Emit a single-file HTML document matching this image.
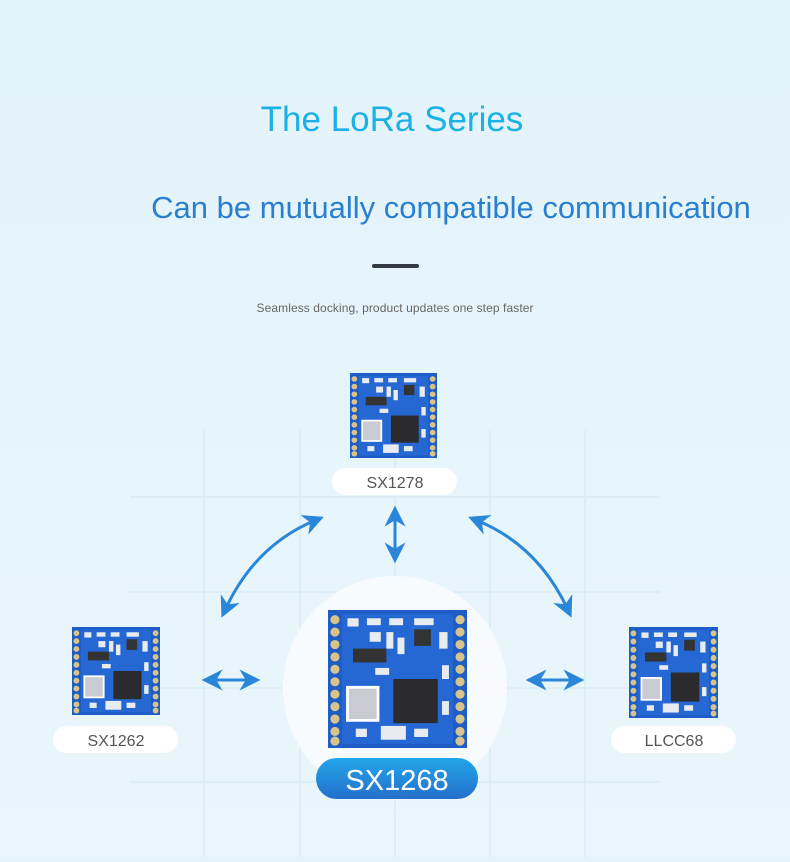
<!DOCTYPE html>
<html><head><meta charset="utf-8"><style>
html,body{margin:0;padding:0}
body{width:790px;height:857px;overflow:hidden;background:linear-gradient(#e4f4fb,#e9f6fc);font-family:"Liberation Sans",sans-serif}
</style></head><body>
<svg width="790" height="857" viewBox="0 0 790 857" xmlns="http://www.w3.org/2000/svg">
<defs>
<marker id="ah" viewBox="0 0 10 10" refX="6" refY="5" markerWidth="7" markerHeight="7" orient="auto-start-reverse" markerUnits="strokeWidth">
<path d="M0,0 L10,5 L0,10 L3,5 Z" fill="#2a86d8"/></marker>
<linearGradient id="pill" x1="0" y1="0" x2="0" y2="1"><stop offset="0" stop-color="#22a6ea"/><stop offset="1" stop-color="#2570cc"/></linearGradient>
<g id="m">
<rect x="0" y="0" width="100" height="100" fill="#1e5cc6"/>
<rect x="10" y="3" width="80" height="94" fill="#2568d4"/>
<g fill="#d8c48a">
<circle cx="5" cy="7" r="3.3"/><circle cx="5" cy="16" r="3.3"/><circle cx="5" cy="25" r="3.3"/><circle cx="5" cy="34" r="3.3"/><circle cx="5" cy="43" r="3.3"/><circle cx="5" cy="52" r="3.3"/><circle cx="5" cy="61" r="3.3"/><circle cx="5" cy="70" r="3.3"/><circle cx="5" cy="79" r="3.3"/><circle cx="5" cy="88" r="3.3"/><circle cx="5" cy="95" r="3.3"/>
<circle cx="95" cy="7" r="3.3"/><circle cx="95" cy="16" r="3.3"/><circle cx="95" cy="25" r="3.3"/><circle cx="95" cy="34" r="3.3"/><circle cx="95" cy="43" r="3.3"/><circle cx="95" cy="52" r="3.3"/><circle cx="95" cy="61" r="3.3"/><circle cx="95" cy="70" r="3.3"/><circle cx="95" cy="79" r="3.3"/><circle cx="95" cy="88" r="3.3"/><circle cx="95" cy="95" r="3.3"/>
</g>
<rect x="47" y="50" width="32" height="32" fill="#2b2b2e"/>
<rect x="14" y="56" width="22" height="24" fill="#c8ccd2" stroke="#fff" stroke-width="2"/>
<rect x="18" y="28" width="24" height="10" fill="#333"/>
<rect x="62" y="14" width="12" height="12" fill="#333"/>
<g fill="#e8ecf0">
<rect x="14" y="6" width="8" height="6"/><rect x="28" y="6" width="10" height="5"/><rect x="44" y="6" width="10" height="5"/><rect x="62" y="6" width="14" height="5"/>
<rect x="30" y="16" width="8" height="7"/><rect x="42" y="16" width="5" height="12"/><rect x="50" y="20" width="5" height="12"/><rect x="34" y="42" width="10" height="5"/>
<rect x="80" y="16" width="6" height="12"/><rect x="82" y="40" width="5" height="10"/><rect x="82" y="66" width="5" height="10"/>
<rect x="20" y="86" width="8" height="6"/><rect x="38" y="84" width="18" height="10"/><rect x="62" y="86" width="10" height="6"/>
</g>
</g>
</defs>
<text x="392" y="131" text-anchor="middle" font-size="35" fill="#1cb0e8">The LoRa Series</text>
<text x="451" y="218" text-anchor="middle" font-size="31" fill="#2a80d0">Can be mutually compatible communication</text>
<rect x="372" y="264" width="47" height="4" rx="2" fill="#333a44"/>
<text x="395" y="312" text-anchor="middle" font-size="12" fill="#666" textLength="277">Seamless docking, product updates one step faster</text>
<g stroke="#dceff7" stroke-width="2" fill="none">
<line x1="204" y1="430" x2="204" y2="857"/><line x1="300" y1="430" x2="300" y2="857"/><line x1="395" y1="430" x2="395" y2="857"/><line x1="490" y1="430" x2="490" y2="857"/><line x1="585" y1="430" x2="585" y2="857"/>
<line x1="130" y1="497" x2="660" y2="497"/><line x1="130" y1="592" x2="660" y2="592"/><line x1="130" y1="688" x2="660" y2="688"/><line x1="130" y1="782" x2="660" y2="782"/>
</g>
<circle cx="395" cy="688" r="112" fill="#f8fbfd"/>
<use href="#m" transform="translate(350,373) scale(0.87,0.85)"/>
<use href="#m" transform="translate(72,627) scale(0.88)"/>
<use href="#m" transform="translate(629,627) scale(0.89,0.91)"/>
<use href="#m" transform="translate(328,610) scale(1.39,1.38)"/>
<rect x="332" y="468" width="125" height="27" rx="13.5" fill="#fff"/>
<text x="395" y="488" text-anchor="middle" font-size="16" fill="#555">SX1278</text>
<rect x="53" y="726" width="125" height="27" rx="13.5" fill="#fff"/>
<text x="116" y="746" text-anchor="middle" font-size="16" fill="#555">SX1262</text>
<rect x="611" y="726" width="125" height="27" rx="13.5" fill="#fff"/>
<text x="674" y="746" text-anchor="middle" font-size="16" fill="#555">LLCC68</text>
<rect x="316" y="758" width="162" height="41" rx="20.5" fill="url(#pill)"/>
<text x="397" y="790" text-anchor="middle" font-size="29" fill="#fff">SX1268</text>
<g stroke="#2a86d8" stroke-width="3" fill="none" marker-start="url(#ah)" marker-end="url(#ah)">
<path d="M225,610 Q255,545 316,520"/>
<path d="M568,610 Q538,545 476,520"/>
<path d="M395,514 L395,555"/>
<path d="M210,680 L252,680"/>
<path d="M534,680 L576,680"/>
</g>
</svg>
</body></html>
